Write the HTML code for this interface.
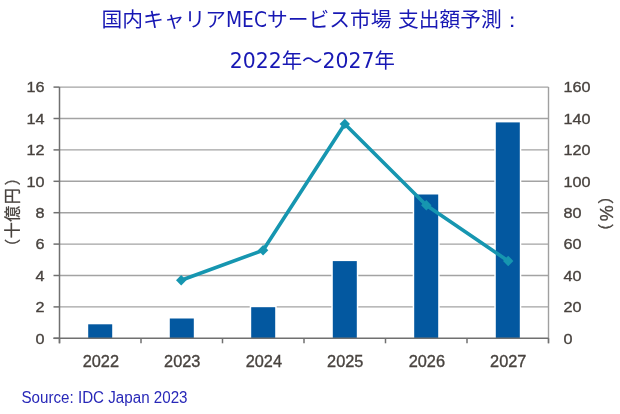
<!DOCTYPE html>
<html lang="ja"><head><meta charset="utf-8"><title>chart</title>
<style>html,body{margin:0;padding:0;background:#fff}svg{display:block}</style></head>
<body>
<svg width="620" height="414" viewBox="0 0 620 414">
<rect width="620" height="414" fill="#fff"/>
<line x1="59.5" y1="306.9" x2="548.5" y2="306.9" stroke="#a3a3a3" stroke-width="1.4"/>
<line x1="59.5" y1="275.5" x2="548.5" y2="275.5" stroke="#a3a3a3" stroke-width="1.4"/>
<line x1="59.5" y1="244.1" x2="548.5" y2="244.1" stroke="#a3a3a3" stroke-width="1.4"/>
<line x1="59.5" y1="212.7" x2="548.5" y2="212.7" stroke="#a3a3a3" stroke-width="1.4"/>
<line x1="59.5" y1="181.3" x2="548.5" y2="181.3" stroke="#a3a3a3" stroke-width="1.4"/>
<line x1="59.5" y1="149.9" x2="548.5" y2="149.9" stroke="#a3a3a3" stroke-width="1.4"/>
<line x1="59.5" y1="118.5" x2="548.5" y2="118.5" stroke="#a3a3a3" stroke-width="1.4"/>
<line x1="59.5" y1="87.1" x2="548.5" y2="87.1" stroke="#a3a3a3" stroke-width="1.4"/>
<line x1="548.5" y1="87.1" x2="548.5" y2="343.3" stroke="#a0a0a0" stroke-width="1.4"/>
<rect x="88.2" y="324.3" width="24" height="14.0" fill="#0358a0" stroke="#fff" stroke-width="3" paint-order="stroke"/>
<rect x="169.8" y="318.5" width="24" height="19.8" fill="#0358a0" stroke="#fff" stroke-width="3" paint-order="stroke"/>
<rect x="251.2" y="307.2" width="24" height="31.1" fill="#0358a0" stroke="#fff" stroke-width="3" paint-order="stroke"/>
<rect x="332.8" y="261.1" width="24" height="77.2" fill="#0358a0" stroke="#fff" stroke-width="3" paint-order="stroke"/>
<rect x="414.2" y="194.5" width="24" height="143.8" fill="#0358a0" stroke="#fff" stroke-width="3" paint-order="stroke"/>
<rect x="495.8" y="122.4" width="24" height="215.9" fill="#0358a0" stroke="#fff" stroke-width="3" paint-order="stroke"/>
<line x1="59.5" y1="87.1" x2="59.5" y2="343.3" stroke="#707070" stroke-width="1.5"/>
<line x1="53.5" y1="338.3" x2="548.5" y2="338.3" stroke="#707070" stroke-width="1.5"/>
<line x1="53.5" y1="338.3" x2="59.5" y2="338.3" stroke="#707070" stroke-width="1.5"/>
<line x1="53.5" y1="306.9" x2="59.5" y2="306.9" stroke="#707070" stroke-width="1.5"/>
<line x1="53.5" y1="275.5" x2="59.5" y2="275.5" stroke="#707070" stroke-width="1.5"/>
<line x1="53.5" y1="244.1" x2="59.5" y2="244.1" stroke="#707070" stroke-width="1.5"/>
<line x1="53.5" y1="212.7" x2="59.5" y2="212.7" stroke="#707070" stroke-width="1.5"/>
<line x1="53.5" y1="181.3" x2="59.5" y2="181.3" stroke="#707070" stroke-width="1.5"/>
<line x1="53.5" y1="149.9" x2="59.5" y2="149.9" stroke="#707070" stroke-width="1.5"/>
<line x1="53.5" y1="118.5" x2="59.5" y2="118.5" stroke="#707070" stroke-width="1.5"/>
<line x1="53.5" y1="87.1" x2="59.5" y2="87.1" stroke="#707070" stroke-width="1.5"/>
<line x1="59.5" y1="338.3" x2="59.5" y2="343.3" stroke="#707070" stroke-width="1.5"/>
<line x1="141.0" y1="338.3" x2="141.0" y2="343.3" stroke="#707070" stroke-width="1.5"/>
<line x1="222.5" y1="338.3" x2="222.5" y2="343.3" stroke="#707070" stroke-width="1.5"/>
<line x1="304.0" y1="338.3" x2="304.0" y2="343.3" stroke="#707070" stroke-width="1.5"/>
<line x1="385.5" y1="338.3" x2="385.5" y2="343.3" stroke="#707070" stroke-width="1.5"/>
<line x1="467.0" y1="338.3" x2="467.0" y2="343.3" stroke="#707070" stroke-width="1.5"/>
<line x1="548.5" y1="338.3" x2="548.5" y2="343.3" stroke="#707070" stroke-width="1.5"/>
<polyline fill="none" stroke="#1696b0" stroke-width="3.6" stroke-linejoin="round" points="181.2,280.3 263.1,250.2 344.8,123.9 426.3,205.2 508.2,261.0"/>
<path d="M176.0,280.3 L181.2,275.1 L186.4,280.3 L181.2,285.5Z" fill="#1696b0"/>
<path d="M257.9,250.2 L263.1,245.0 L268.3,250.2 L263.1,255.4Z" fill="#1696b0"/>
<path d="M339.6,123.9 L344.8,118.7 L350.0,123.9 L344.8,129.1Z" fill="#1696b0"/>
<path d="M421.1,205.2 L426.3,200.0 L431.5,205.2 L426.3,210.4Z" fill="#1696b0"/>
<path d="M503.0,261.0 L508.2,255.8 L513.4,261.0 L508.2,266.2Z" fill="#1696b0"/>
<g font-family="'Liberation Sans', sans-serif" font-size="15" fill="#48433f" stroke="#48433f" stroke-width="0.35">
<text transform="translate(44.6,343.6) scale(1.08,1)" text-anchor="end">0</text>
<text transform="translate(563.6,343.6) scale(1.08,1)">0</text>
<text transform="translate(44.6,312.2) scale(1.08,1)" text-anchor="end">2</text>
<text transform="translate(563.6,312.2) scale(1.08,1)">20</text>
<text transform="translate(44.6,280.8) scale(1.08,1)" text-anchor="end">4</text>
<text transform="translate(563.6,280.8) scale(1.08,1)">40</text>
<text transform="translate(44.6,249.4) scale(1.08,1)" text-anchor="end">6</text>
<text transform="translate(563.6,249.4) scale(1.08,1)">60</text>
<text transform="translate(44.6,218.0) scale(1.08,1)" text-anchor="end">8</text>
<text transform="translate(563.6,218.0) scale(1.08,1)">80</text>
<text transform="translate(44.6,186.6) scale(1.08,1)" text-anchor="end">10</text>
<text transform="translate(563.6,186.6) scale(1.08,1)">100</text>
<text transform="translate(44.6,155.2) scale(1.08,1)" text-anchor="end">12</text>
<text transform="translate(563.6,155.2) scale(1.08,1)">120</text>
<text transform="translate(44.6,123.8) scale(1.08,1)" text-anchor="end">14</text>
<text transform="translate(563.6,123.8) scale(1.08,1)">140</text>
<text transform="translate(44.6,92.4) scale(1.08,1)" text-anchor="end">16</text>
<text transform="translate(563.6,92.4) scale(1.08,1)">160</text>
<text transform="translate(100.8,367.0) scale(1.02,1)" font-size="16" text-anchor="middle">2022</text>
<text transform="translate(182.2,367.0) scale(1.02,1)" font-size="16" text-anchor="middle">2023</text>
<text transform="translate(263.8,367.0) scale(1.02,1)" font-size="16" text-anchor="middle">2024</text>
<text transform="translate(345.2,367.0) scale(1.02,1)" font-size="16" text-anchor="middle">2025</text>
<text transform="translate(426.8,367.0) scale(1.02,1)" font-size="16" text-anchor="middle">2026</text>
<text transform="translate(508.2,367.0) scale(1.02,1)" font-size="16" text-anchor="middle">2027</text>
</g>
<g font-family="'Liberation Sans', 'Noto Sans CJK JP', sans-serif" fill="#48433f" stroke="#48433f" stroke-width="0.3">
<g transform="translate(18.1,212) rotate(-90)" font-size="16"><text x="-42.75 -26.3 -9.7 7.8 26.55" y="0">（十億円）</text></g>
<g transform="translate(599.75,214) rotate(90)" font-size="16"><text x="-25.95" y="0">（<tspan x="-8.65" font-size="18">%</tspan><tspan x="9.5">）</tspan></text></g>
</g>
<g font-family="'DejaVu Sans', 'Noto Sans CJK JP', sans-serif" font-size="20.75" fill="#1818b4" text-anchor="middle">
<text x="312" y="27">国内キャリア<tspan textLength="41" lengthAdjust="spacingAndGlyphs">MEC</tspan>サービス市場 支出額予測<tspan font-family="'WenQuanYi Zen Hei', 'Noto Sans CJK JP', sans-serif">：</tspan></text>
<text x="312.3" y="67.8" font-size="20.4">2022年～2027年</text>
</g>
<text x="21.5" y="402.5" font-family="'Liberation Sans', sans-serif" font-size="16" fill="#2828b8" textLength="166" lengthAdjust="spacingAndGlyphs">Source: IDC Japan 2023</text>
</svg>
</body></html>
